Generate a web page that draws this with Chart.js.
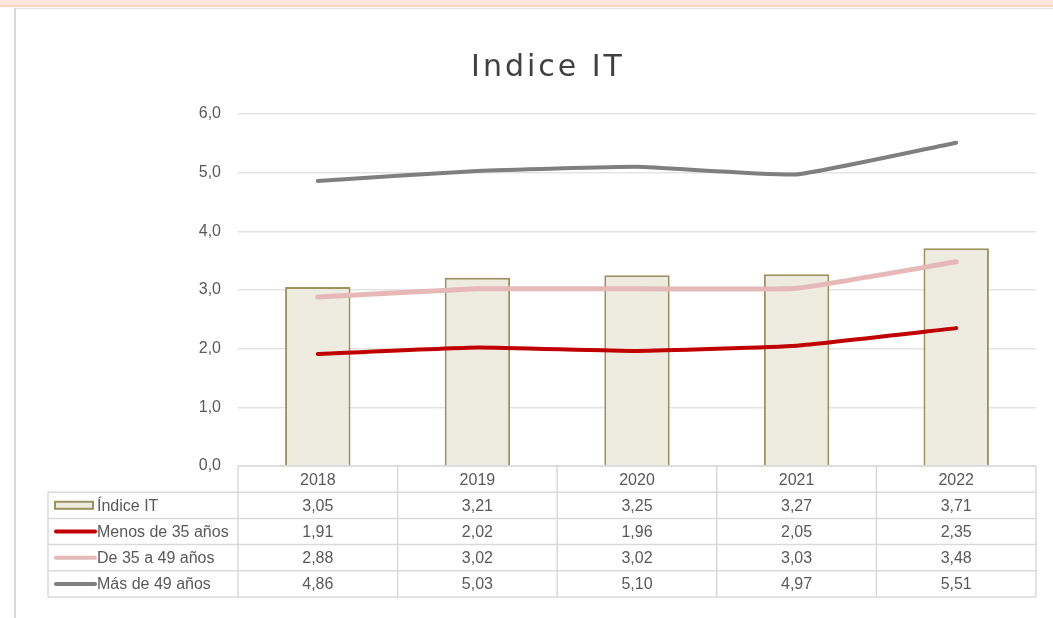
<!DOCTYPE html>
<html>
<head>
<meta charset="utf-8">
<script src="https://cdn.jsdelivr.net/npm/chart.js@4"></script>
<style>
html,body{margin:0;padding:0;background:#fff;}
#wrap{position:relative;width:1053px;height:618px;}
</style>
</head>
<body>
<div id="wrap"><canvas id="c" width="1053" height="618"></canvas></div>
<script>
const titleText = 'Indice IT';
const categories = ['2018', '2019', '2020', '2021', '2022'];
const indiceIT = [3.05, 3.21, 3.25, 3.27, 3.71];
const menos35 = [1.91, 2.02, 1.96, 2.05, 2.35];
const de35a49 = [2.88, 3.02, 3.02, 3.03, 3.48];
const mas49 = [4.86, 5.03, 5.10, 4.97, 5.51];
const seriesNames = ['Índice IT', 'Menos de 35 años', 'De 35 a 49 años', 'Más de 49 años'];
const yTicks = [0, 1, 2, 3, 4, 5, 6];

const fmt = (v, d) => v.toFixed(d).replace('.', ',');
const TXT = '#595959';
const FONT = '"Liberation Sans", Arial, sans-serif';

const framePlugin = {
  id: 'frame',
  beforeDraw(chart) {
    const ctx = chart.ctx;
    ctx.save();
    ctx.fillStyle = '#fee6de';
    ctx.fillRect(0, 0, 1053, 6);
    ctx.fillStyle = '#fcd4c6';
    ctx.fillRect(0, 5, 1053, 2);
    ctx.fillStyle = '#e4e4e4';
    ctx.fillRect(14, 8, 1039, 1);
    ctx.fillStyle = '#d9d9d9';
    ctx.fillRect(14, 8, 2, 610);
    // title
    ctx.fillStyle = '#404040';
    ctx.font = '30px "DejaVu Sans", sans-serif';
    ctx.textAlign = 'center';
    ctx.textBaseline = 'alphabetic';
    try { ctx.letterSpacing = '3px'; } catch (e) {}
    ctx.fillText(titleText, 548, 76);
    ctx.restore();
  }
};

const tablePlugin = {
  id: 'dataTable',
  afterDraw(chart) {
    const ctx = chart.ctx;
    const xs = chart.scales.x;
    const area = chart.chartArea;
    const n = categories.length;
    const cw = (area.right - area.left) / n;
    const rowH = 26.2;
    const top = area.bottom;
    const leftX = 48;
    const rows = [indiceIT, menos35, de35a49, mas49];
    const ds = chart.data.datasets;
    ctx.save();
    ctx.strokeStyle = '#d9d9d9';
    ctx.lineWidth = 1.5;
    const bottom = top + rowH * 5;
    ctx.beginPath();
    ctx.moveTo(area.left, top); ctx.lineTo(area.right, top);
    for (let r = 1; r <= 5; r++) {
      const y = top + rowH * r;
      ctx.moveTo(leftX, y); ctx.lineTo(area.right, y);
    }
    ctx.moveTo(leftX, top + rowH); ctx.lineTo(leftX, bottom);
    for (let i = 0; i <= n; i++) {
      const x = area.left + cw * i;
      ctx.moveTo(x, top); ctx.lineTo(x, bottom);
    }
    ctx.stroke();

    ctx.fillStyle = TXT;
    ctx.font = '16px ' + FONT;
    ctx.textBaseline = 'middle';
    ctx.textAlign = 'center';
    for (let i = 0; i < n; i++) {
      const cx = xs.getPixelForValue(i);
      ctx.fillText(categories[i], cx, top + rowH / 2 + 1);
      for (let r = 0; r < rows.length; r++) {
        ctx.fillText(fmt(rows[r][i], 2), cx, top + rowH * (r + 1.5) + 1);
      }
    }
    ctx.textAlign = 'left';
    for (let r = 0; r < rows.length; r++) {
      const yc = top + rowH * (r + 1.5);
      const d = ds.find(o => o.label === seriesNames[r]);
      if (d.type === 'bar') {
        ctx.fillStyle = d.backgroundColor;
        ctx.fillRect(55, yc - 3.5, 38, 7);
        ctx.strokeStyle = d.borderColor;
        ctx.lineWidth = 2;
        ctx.strokeRect(55, yc - 3.5, 38, 7);
      } else {
        ctx.strokeStyle = d.borderColor;
        ctx.lineWidth = 4;
        ctx.lineCap = 'round';
        ctx.beginPath();
        ctx.moveTo(56, yc); ctx.lineTo(95, yc);
        ctx.stroke();
      }
      ctx.fillStyle = TXT;
      ctx.fillText(seriesNames[r], 97, yc + 1);
    }
    ctx.restore();
  }
};

new Chart(document.getElementById('c'), {
  data: {
    labels: categories,
    datasets: [
      { type: 'line', label: seriesNames[3], data: mas49, borderColor: '#7f7f7f', borderWidth: 4, pointRadius: 0, tension: 0.12, borderCapStyle: 'round', order: 1 },
      { type: 'line', label: seriesNames[2], data: de35a49, borderColor: '#e6b9b8', borderWidth: 5, pointRadius: 0, tension: 0.12, borderCapStyle: 'round', order: 2 },
      { type: 'line', label: seriesNames[1], data: menos35, borderColor: '#c00000', borderWidth: 4, pointRadius: 0, tension: 0.12, borderCapStyle: 'round', order: 3 },
      { type: 'bar', label: seriesNames[0], data: indiceIT, backgroundColor: '#eeebe0', borderColor: '#9c915f', borderWidth: 2, barPercentage: 0.41, categoryPercentage: 1, order: 10 }
    ]
  },
  options: {
    responsive: false,
    animation: false,
    devicePixelRatio: 1,
    layout: { padding: { top: 114, right: 17, bottom: 152, left: 0 } },
    plugins: { legend: { display: false }, tooltip: { enabled: false }, title: { display: false } },
    scales: {
      x: { type: 'category', display: false, offset: true },
      y: {
        min: 0, max: 6,
        afterFit(s) { s.width = 238; },
        afterBuildTicks(s) { s.ticks = yTicks.map(v => ({ value: v })); },
        ticks: { padding: 17, color: TXT, font: { family: FONT, size: 16 }, callback: v => fmt(v, 1) },
        grid: { color: '#e3e3e3', lineWidth: 1.5, drawTicks: false },
        border: { display: false }
      }
    }
  },
  plugins: [framePlugin, tablePlugin]
});
</script>
</body>
</html>
